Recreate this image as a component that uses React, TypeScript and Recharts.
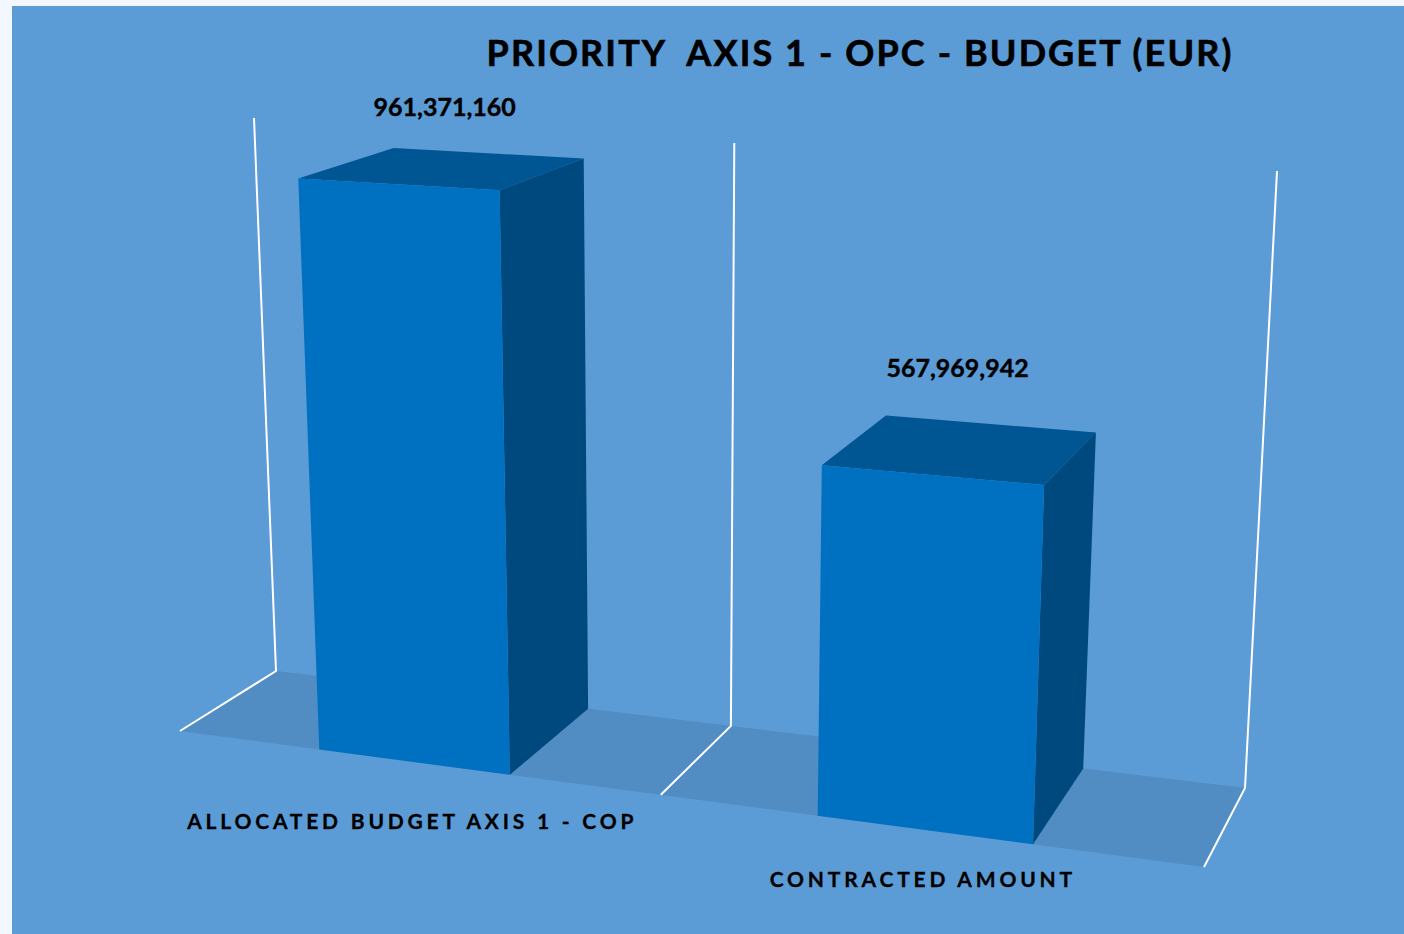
import React from "react";
import { BarChart, Bar, XAxis, YAxis, Customized, LabelList } from "recharts";

const categories = ["ALLOCATED BUDGET AXIS 1 - COP", "CONTRACTED AMOUNT"];
const amounts = [961371160, 567969942];
const tableRows = categories.map((name, i) => ({ name, amount: amounts[i] }));
const AXIS_MAX = 1000000000;
const TITLE = "PRIORITY  AXIS 1 - OPC - BUDGET (EUR)";

const CHART_W = 1404;
const CHART_H = 934;
const M = { top: 100, right: 104, bottom: 204, left: 100 };
const AXIS_H = 30;
const PLOT_W = CHART_W - M.left - M.right;
const PLOT_H = CHART_H - M.top - M.bottom - AXIS_H;
const PLOT_B = M.top + PLOT_H;

type P = [number, number];
// corners of the 3D box on the page: [front/back][floor/top][left/right]
const FFL: P = [180, 731], FFR: P = [1204, 867];
const BFL: P = [276, 671], BFR: P = [1245, 788];
const FTL: P = [150, 146], FTR: P = [1234, 206];
const BTL: P = [254, 118], BTR: P = [1277, 171];
const PERSP = 1.13;
const PERSP_V = 1.058;

const mix = (a: P, b: P, t: number): P => [a[0] + (b[0] - a[0]) * t, a[1] + (b[1] - a[1]) * t];
// u: 0..2 along the categories, h: 0..1 of the value axis, d: 0 front, 1 back
function project(u: number, h: number, d: number): P {
  const s = u / (u + PERSP * (2 - u));
  const t = h / (h + PERSP_V * (1 - h));
  const floorFront = mix(FFL, FFR, s);
  const floorBack = mix(BFL, BFR, s);
  const topFront = mix(FTL, FTR, s);
  const topBack = mix(BTL, BTR, s);
  return mix(mix(floorFront, floorBack, d), mix(topFront, topBack, d), t);
}
const pts = (list: P[]) => list.map((p) => `${p[0].toFixed(1)},${p[1].toFixed(1)}`).join(" ");
const toU = (px: number) => ((px - M.left) / PLOT_W) * 2;
const toH = (py: number) => (PLOT_B - py) / PLOT_H;

const FONT = "Lato, 'Open Sans', sans-serif";

function Backdrop() {
  const wall = (u: number): P[] => [project(u, 1, 1), project(u, 0, 1), project(u, 0, 0)];
  return (
    <g>
      <rect x={12} y={6} width={1392} height={928} fill="#5b9bd6" />
      <polygon
        points={pts([project(0, 0, 0), project(0, 0, 1), project(2, 0, 1), project(2, 0, 0)])}
        fill="#518cc3"
      />
      {[0, 1, 2].map((u) => (
        <polyline key={u} points={pts(wall(u))} fill="none" stroke="#ffffff" strokeWidth={2} />
      ))}
      <text
        x={860}
        y={66}
        textAnchor="middle"
        fontFamily={FONT}
        fontWeight={700}
        fontSize={36}
        letterSpacing={2.1}
        fill="#000000"
        stroke="#000000"
        strokeWidth={0.6}
        style={{ whiteSpace: "pre" }}
      >
        {TITLE}
      </text>
    </g>
  );
}

function Box3D(props: any) {
  const { x, y, width } = props;
  const u0 = toU(x);
  const u1 = toU(x + width);
  const h = toH(y);
  return (
    <g>
      <polygon
        points={pts([project(u0, h, 0), project(u0, h, 1), project(u1, h, 1), project(u1, h, 0)])}
        fill="#005593"
      />
      <polygon
        points={pts([project(u1, 0, 0), project(u1, h, 0), project(u1, h, 1), project(u1, 0, 1)])}
        fill="#00497f"
      />
      <polygon
        points={pts([project(u0, 0, 0), project(u0, h, 0), project(u1, h, 0), project(u1, 0, 0)])}
        fill="#0070c1"
      />
    </g>
  );
}

const LABEL_RISE = [62, 81];
const LABEL_SHIFT = [2, -3];
function ValueLabel(props: any) {
  const { x, y, width, value, index } = props;
  const u = toU(x + width / 2);
  const h = toH(y);
  const c = project(u, h, 0.5);
  return (
    <text
      x={c[0] + LABEL_SHIFT[index]}
      y={c[1] - LABEL_RISE[index] + 9}
      textAnchor="middle"
      fontFamily={FONT}
      fontWeight={700}
      fontSize={25}
      fill="#000000"
      stroke="#000000"
      strokeWidth={0.4}
    >
      {Number(value).toLocaleString("en-US")}
    </text>
  );
}

const TICK_DROP = [59, 49];
function CategoryTick(props: any) {
  const { x, index, payload } = props;
  const p = project(toU(x), 0, 0);
  return (
    <text
      x={p[0] - 1}
      y={p[1] + TICK_DROP[index] + 8}
      textAnchor="middle"
      fontFamily={FONT}
      fontWeight={700}
      fontSize={21}
      letterSpacing={3.8}
      fill="#000000"
      stroke="#000000"
      strokeWidth={0.3}
    >
      {payload.value}
    </text>
  );
}

export default function App() {
  return (
    <div
      style={{
        position: "absolute",
        left: 0,
        top: 0,
        width: CHART_W,
        height: CHART_H,
        background: "#f3f7ff",
        overflow: "hidden",
      }}
    >
      <BarChart width={CHART_W} height={CHART_H} data={tableRows} margin={M} barCategoryGap="30.2%">
        <Customized component={Backdrop} />
        <XAxis
          dataKey="name"
          height={AXIS_H}
          axisLine={false}
          tickLine={false}
          interval={0}
          tick={<CategoryTick />}
        />
        <YAxis hide domain={[0, AXIS_MAX]} />
        <Bar dataKey="amount" isAnimationActive={false} shape={<Box3D />}>
          <LabelList dataKey="amount" content={<ValueLabel />} />
        </Bar>
      </BarChart>
    </div>
  );
}
